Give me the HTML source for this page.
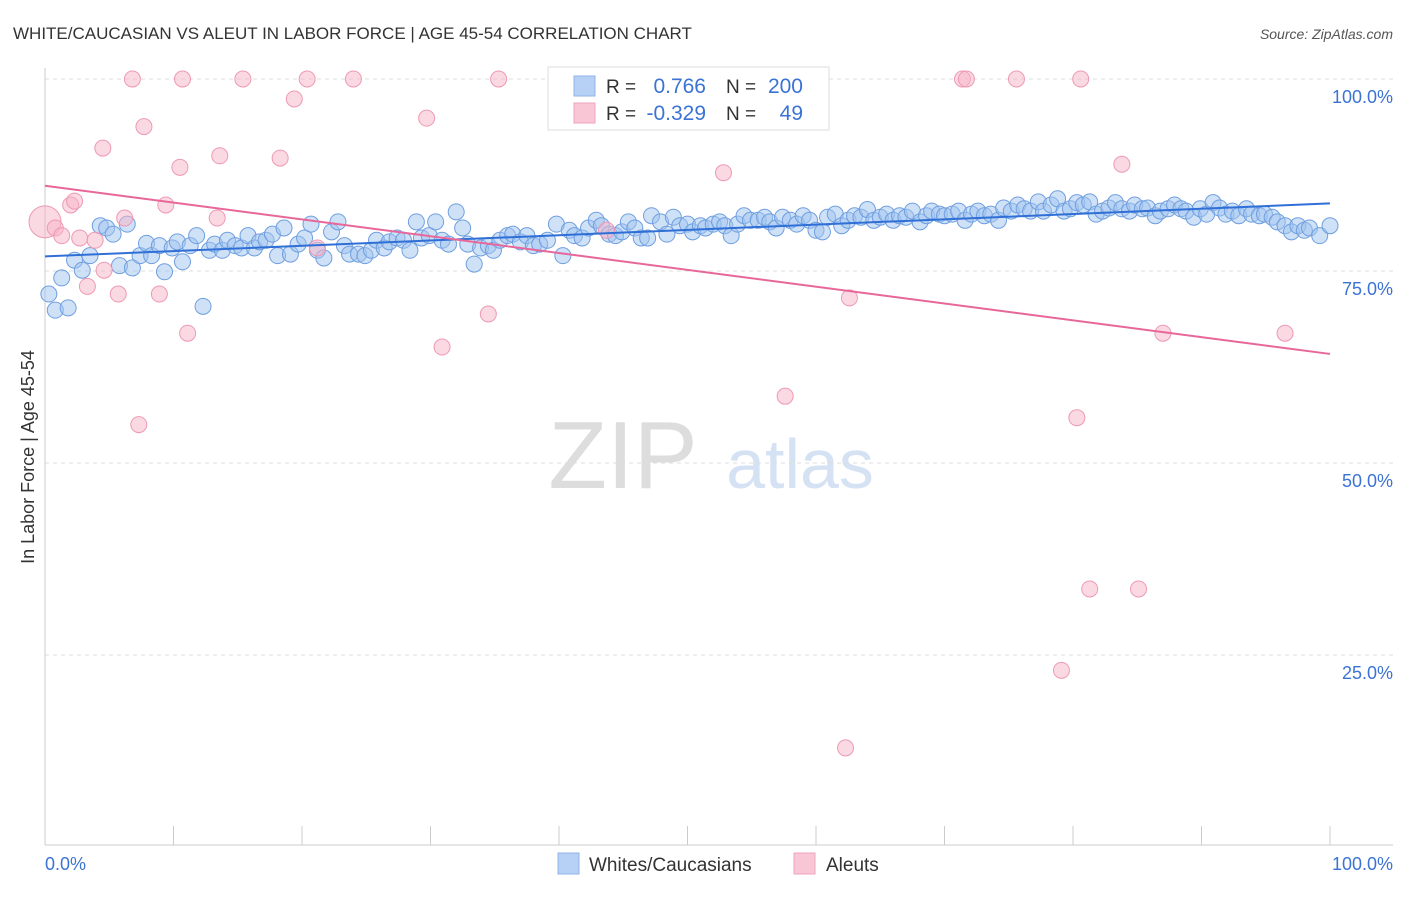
<!DOCTYPE html>
<html><head><meta charset="utf-8"><style>
body{margin:0;background:#fff;font-family:"Liberation Sans",sans-serif;}
svg text{font-family:"Liberation Sans",sans-serif;}
</style></head><body>
<svg id="chart" width="1406" height="892">
<text x="13" y="39" font-size="17" fill="#333">WHITE/CAUCASIAN VS ALEUT IN LABOR FORCE | AGE 45-54 CORRELATION CHART</text>
<text x="1393" y="39" font-size="14" fill="#555" text-anchor="end" font-style="italic">Source: ZipAtlas.com</text>
<text x="623" y="488" font-size="96" fill="#ddd" font-family="Liberation Serif" text-anchor="middle">ZIP</text>
<text x="800" y="488" font-size="70" fill="#d4e2f4" text-anchor="middle">atlas</text>
<text transform="translate(34,457) rotate(-90)" font-size="18" fill="#333" text-anchor="middle">In Labor Force | Age 45-54</text>
<g id="grid"></g><g id="pts"></g><g id="lines"></g>
<g>
<rect x="548" y="67" width="281" height="63" fill="#fff" stroke="#ddd"/>
<rect x="574" y="76" width="21" height="20" fill="#b7d0f5" stroke="#8fb3e8"/>
<rect x="574" y="103" width="21" height="20" fill="#f9c6d6" stroke="#f0a3bd"/>
<text x="606" y="93" font-size="19" fill="#333">R =</text>
<text x="706" y="93" font-size="21" fill="#3b73d4" text-anchor="end">0.766</text>
<text x="726" y="93" font-size="19" fill="#333">N =</text>
<text x="803" y="93" font-size="21" fill="#3b73d4" text-anchor="end">200</text>
<text x="606" y="120" font-size="19" fill="#333">R =</text>
<text x="706" y="120" font-size="21" fill="#3b73d4" text-anchor="end">-0.329</text>
<text x="726" y="120" font-size="19" fill="#333">N =</text>
<text x="803" y="120" font-size="21" fill="#3b73d4" text-anchor="end">49</text>
</g>
<g>
<rect x="558" y="853" width="21" height="21" fill="#b7d0f5" stroke="#8fb3e8"/>
<text x="589" y="871" font-size="19" fill="#333">Whites/Caucasians</text>
<rect x="794" y="853" width="21" height="21" fill="#f9c6d6" stroke="#f0a3bd"/>
<text x="826" y="871" font-size="19" fill="#333">Aleuts</text>
</g>
<text x="45" y="870" font-size="18" fill="#3b73d4">0.0%</text>
<text x="1393" y="870" font-size="18" fill="#3b73d4" text-anchor="end">100.0%</text>
</svg>
<script>
const yTicks=[100,75,50,25];
const yTickLabels=["100.0%","75.0%","50.0%","25.0%"];
const blueX=[0.3,0.8,1.8,1.3,2.3,2.9,3.5,4.3,4.8,5.3,5.8,6.4,6.8,7.4,7.9,8.3,8.9,9.3,9.9,10.3,10.7,11.3,11.8,12.3,12.8,13.2,13.8,14.2,14.8,15.3,15.8,16.3,16.7,17.2,17.7,18.1,18.6,19.1,19.7,20.2,20.7,21.2,21.7,22.3,22.8,23.3,23.7,24.4,24.9,25.4,25.8,26.4,26.8,27.4,27.9,28.4,28.9,29.3,29.9,30.4,30.9,31.4,32.0,32.5,32.9,33.4,33.9,34.5,34.9,35.4,36.0,36.4,37.0,37.5,38.0,38.5,39.1,39.8,40.3,40.8,41.2,41.8,42.3,42.9,43.3,43.9,44.4,44.9,45.4,45.9,46.4,46.9,47.2,47.9,48.4,48.9,49.4,50.0,50.4,51.0,51.4,52.0,52.5,52.9,53.4,53.9,54.4,54.9,55.5,56.0,56.4,56.9,57.4,58.0,58.5,59.0,59.5,60.0,60.5,60.9,61.5,62.0,62.5,63.0,63.5,64.0,64.5,65.0,65.5,66.0,66.5,67.0,67.5,68.1,68.6,69.0,69.6,70.0,70.6,71.1,71.6,72.1,72.6,73.1,73.6,74.2,74.6,75.2,75.7,76.2,76.7,77.3,77.7,78.3,78.8,79.3,79.8,80.3,80.8,81.3,81.8,82.3,82.8,83.3,83.8,84.4,84.8,85.4,85.8,86.4,86.8,87.4,87.9,88.4,88.8,89.4,89.9,90.4,90.9,91.4,91.9,92.4,92.9,93.5,93.9,94.5,94.9,95.5,95.9,96.5,97.0,97.5,98.0,98.4,99.2,100];
const blueY=[72.0,69.9,70.2,74.1,76.4,75.1,77.0,80.9,80.6,79.8,75.7,81.1,75.4,77.0,78.6,77.0,78.3,74.9,78.0,78.8,76.2,78.3,79.6,70.4,77.7,78.5,77.7,79.0,78.3,78.0,79.6,78.0,78.8,79.0,79.8,77.0,80.6,77.2,78.5,79.3,81.1,77.7,76.7,80.1,81.4,78.3,77.2,77.2,77.0,77.7,79.0,78.0,78.8,79.3,79.0,77.7,81.4,79.3,79.6,81.4,79.0,78.5,82.7,80.6,78.5,75.9,78.0,78.3,77.7,79.0,79.6,79.8,78.8,79.6,78.3,78.5,79.0,81.1,77.0,80.3,79.6,79.3,80.6,81.6,80.9,79.8,79.6,80.1,81.4,80.6,79.3,79.3,82.2,81.4,79.8,82.0,80.9,81.1,80.1,80.9,80.6,81.1,81.4,80.9,79.6,81.1,82.2,81.6,81.6,82.0,81.4,80.6,82.0,81.6,81.1,82.2,81.6,80.3,80.1,82.0,82.4,80.9,81.6,82.2,82.0,83.0,81.6,82.0,82.4,81.6,82.2,82.0,82.8,81.4,82.2,82.8,82.4,82.2,82.4,82.8,81.6,82.4,82.8,82.2,82.4,81.6,83.2,82.8,83.6,83.1,82.8,84.0,82.8,83.6,84.4,82.8,83.1,83.9,83.6,84.0,82.4,82.8,83.2,83.9,83.1,82.8,83.6,83.1,83.2,82.2,82.8,83.1,83.6,83.1,82.8,82.0,83.1,82.4,83.9,83.2,82.4,82.8,82.2,83.1,82.4,82.2,82.4,82.0,81.4,80.9,80.1,80.9,80.3,80.6,79.6,80.9];
const pinkX=[0,0.8,1.3,2.0,2.3,2.7,3.3,3.9,4.6,4.5,5.7,6.2,6.8,7.3,7.7,8.9,9.4,10.5,10.7,11.1,13.4,13.6,15.4,18.3,19.4,20.4,21.2,24.0,29.7,30.9,34.5,35.3,43.7,52.8,55.6,57.6,62.3,62.6,71.4,71.7,75.6,79.1,80.3,80.6,81.3,83.8,85.1,87.0,96.5];
const pinkY=[81.4,80.6,79.6,83.6,84.1,79.3,73.0,79.0,75.1,91.0,72.0,81.9,100,55.0,93.8,72.0,83.6,88.5,100,66.9,81.9,90.0,100,89.7,97.4,100,78.0,100,94.9,65.1,69.4,100,80.3,87.8,100,58.7,12.9,71.5,100,100,100,23.0,55.9,100,33.6,88.9,33.6,66.9,66.9];
const blueTrend=[76.9,83.8];
const pinkTrend=[86.1,64.2];
const NS="http://www.w3.org/2000/svg";
const X=v=>45+v*12.85;
const Y=v=>847-v*7.68;
function mk(tag,attrs,parent){const e=document.createElementNS(NS,tag);for(const k in attrs)e.setAttribute(k,attrs[k]);parent.appendChild(e);return e;}
const grid=document.getElementById('grid');
yTicks.forEach((t,i)=>{
 const l=mk('line',{x1:45,x2:1393,y1:Y(t),y2:Y(t),stroke:'#ddd','stroke-dasharray':'4,4'},grid);
 
 
 const tx=mk('text',{x:1393,y:Y(t)+24,'font-size':18,fill:'#3b73d4','text-anchor':'end'},grid);
 tx.textContent=yTickLabels[i];
 
 
});
const ax=mk('line',{x1:45,x2:1393,y1:845,y2:845,stroke:'#ccc'},grid);


const ay=mk('line',{x1:45,x2:45,y1:68,y2:845,stroke:'#ccc'},grid);


for(let i=0;i<=10;i++){const t=mk('line',{x1:X(i*10),x2:X(i*10),y1:826,y2:845,stroke:'#ccc'},grid);
 
 }
const pts=document.getElementById('pts');
blueX.forEach((x,i)=>{const c=mk('circle',{cx:X(x),cy:Y(blueY[i]),r:8,fill:'rgba(160,196,240,0.5)',stroke:'#6f9fe0','stroke-width':1},pts);
 
 });
pinkX.forEach((x,i)=>{const c=mk('circle',{cx:X(x),cy:Y(pinkY[i]),r:i===0?16:8,fill:'rgba(248,180,200,0.5)',stroke:'#ee99b5','stroke-width':1},pts);
 
 });
const lines=document.getElementById('lines');
const bl=mk('line',{x1:X(0),x2:X(100),y1:Y(blueTrend[0]),y2:Y(blueTrend[1]),stroke:'#2f6fd6','stroke-width':2},lines);


const pl=mk('line',{x1:X(0),x2:X(100),y1:Y(pinkTrend[0]),y2:Y(pinkTrend[1]),stroke:'#e8679a','stroke-width':2},lines);


</script>
</body></html>
